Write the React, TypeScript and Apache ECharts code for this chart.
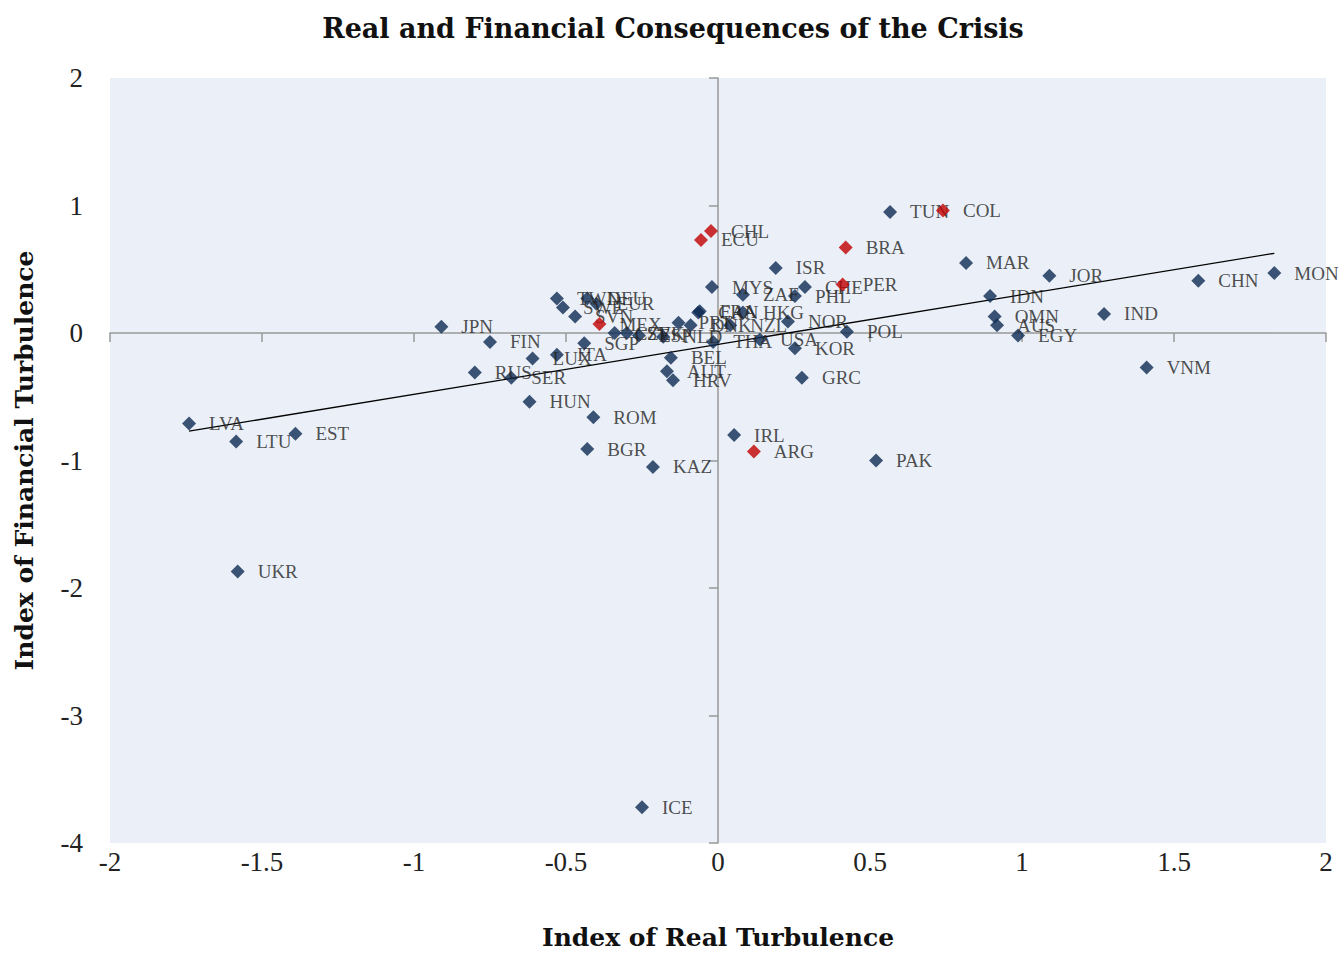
import { useEffect, useRef } from "react";
import * as echarts from "echarts";

const blueNames = [
  "LVA", "LTU", "EST", "UKR", "JPN", "FIN", "RUS", "SER", "LUX", "ITA", "HUN", "SGP", "BGR", "ROM", "KAZ", "ICE",
  "TWN", "SWE", "SVN", "DEU", "EUR", "CZE", "SVK", "ESP", "NLD", "PRT", "DNK", "CAN", "FRA",
  "MYS", "THA", "NZL", "HKG", "ZAF", "USA", "NOR", "PHL", "CHE", "KOR", "POL", "GRC", "ISR", "TUN",
  "MAR", "JOR", "IDN", "OMN", "AUS", "EGY", "CHN", "MON", "IND", "VNM", "PAK", "IRL", "BEL", "AUT", "HRV",
];
const blueX = [
  -1.74, -1.585, -1.39, -1.58, -0.91, -0.75, -0.8, -0.68, -0.61, -0.53, -0.62, -0.44, -0.43, -0.41, -0.214, -0.25,
  -0.53, -0.51, -0.47, -0.43, -0.4, -0.34, -0.3, -0.26, -0.18, -0.13, -0.09, -0.065, -0.06,
  -0.02, -0.016, 0.04, 0.082, 0.082, 0.138, 0.23, 0.253, 0.286, 0.253, 0.424, 0.276, 0.19, 0.566,
  0.816, 1.09, 0.895, 0.91, 0.918, 0.987, 1.58, 1.83, 1.27, 1.41, 0.52, 0.053, -0.155, -0.168, -0.148,
];
const blueY = [
  -0.71, -0.85, -0.79, -1.87, 0.05, -0.07, -0.31, -0.35, -0.2, -0.17, -0.54, -0.08, -0.91, -0.66, -1.05, -3.72,
  0.27, 0.2, 0.13, 0.27, 0.23, 0.0, 0.0, -0.02, -0.03, 0.08, 0.06, 0.16, 0.17,
  0.36, -0.07, 0.06, 0.16, 0.3, -0.05, 0.09, 0.29, 0.36, -0.12, 0.01, -0.35, 0.51, 0.95,
  0.55, 0.45, 0.29, 0.13, 0.06, -0.02, 0.41, 0.47, 0.15, -0.27, -1.0, -0.8, -0.195, -0.3, -0.37,
];
const redNames = ["COL", "BRA", "CHL", "ECU", "PER", "ARG", "MEX"];
const redX = [0.74, 0.42, -0.023, -0.056, 0.41, 0.118, -0.39];
const redY = [0.96, 0.67, 0.8, 0.73, 0.38, -0.93, 0.07];
const trendX = [-1.74, 1.83];
const trendY = [-0.77, 0.625];

const FONT = "'Liberation Serif', 'Times New Roman', serif";
const WIDE = "'DejaVu Serif', 'Liberation Serif', serif";

export default function App() {
  const ref = useRef<HTMLDivElement>(null);
  useEffect(() => {
    if (!ref.current) return;
    const chart = echarts.init(ref.current, null, { renderer: "svg" });
    const labelStyle = {
      show: true,
      position: "right",
      distance: 13,
      formatter: "{b}",
      fontFamily: FONT,
      fontSize: 19,
      color: "#222",
    };
    chart.setOption({
      animation: false,
      backgroundColor: "#ffffff",
      title: {
        text: "Real and Financial Consequences of the Crisis",
        left: 668,
        textAlign: "center",
        top: 10,
        textStyle: { fontFamily: WIDE, fontSize: 27, fontWeight: "bold", color: "#111" },
      },
      grid: {
        left: 110,
        right: 17,
        top: 78,
        bottom: 108,
        show: true,
        backgroundColor: "#EBF0F8",
        borderWidth: 0,
      },
      xAxis: [
        {
          type: "value",
          min: -2,
          max: 2,
          interval: 0.5,
          position: "bottom",
          axisLine: { show: false, onZero: false },
          axisTick: { show: false },
          splitLine: { show: false },
          axisLabel: { fontFamily: FONT, fontSize: 27, color: "#222", margin: 5 },
          name: "Index of Real Turbulence",
          nameLocation: "middle",
          nameGap: 82,
          nameTextStyle: { fontFamily: WIDE, fontSize: 25, fontWeight: "bold", color: "#111" },
        },
        {
          type: "value",
          min: -2,
          max: 2,
          interval: 0.5,
          position: "bottom",
          axisLine: { show: true, onZero: true, lineStyle: { color: "#999", width: 1.5 } },
          axisTick: { show: true, length: 9, lineStyle: { color: "#999", width: 1.5 } },
          axisLabel: { show: false },
          splitLine: { show: false },
        },
      ],
      yAxis: [
        {
          type: "value",
          min: -4,
          max: 2,
          interval: 1,
          position: "left",
          axisLine: { show: false, onZero: false },
          axisTick: { show: false },
          splitLine: { show: false },
          axisLabel: { fontFamily: FONT, fontSize: 27, color: "#222", margin: 27 },
          name: "Index of Financial Turbulence",
          nameLocation: "middle",
          nameGap: 73,
          nameTextStyle: { fontFamily: WIDE, fontSize: 25, fontWeight: "bold", color: "#111" },
        },
        {
          type: "value",
          min: -4,
          max: 2,
          interval: 1,
          position: "left",
          axisLine: { show: true, onZero: true, lineStyle: { color: "#999", width: 1.5 } },
          axisTick: { show: true, length: 9, lineStyle: { color: "#999", width: 1.5 } },
          axisLabel: { show: false },
          splitLine: { show: false },
        },
      ],
      series: [
        {
          type: "line",
          xAxisIndex: 0,
          yAxisIndex: 0,
          data: trendX.map((x, i) => [x, trendY[i]]),
          symbol: "none",
          lineStyle: { color: "#000", width: 1.3 },
          z: 3,
        },
        {
          type: "scatter",
          xAxisIndex: 0,
          yAxisIndex: 0,
          symbol: "diamond",
          symbolSize: [14, 14],
          itemStyle: { color: "#0E2A52" },
          label: labelStyle,
          data: blueNames.map((n, i) => ({ name: n, value: [blueX[i], blueY[i]] })),
          z: 4,
        },
        {
          type: "scatter",
          xAxisIndex: 0,
          yAxisIndex: 0,
          symbol: "diamond",
          symbolSize: [14, 14],
          itemStyle: { color: "#C00000" },
          label: labelStyle,
          data: redNames.map((n, i) => ({ name: n, value: [redX[i], redY[i]] })),
          z: 5,
        },
      ],
    });
    return () => chart.dispose();
  }, []);
  return <div ref={ref} style={{ width: 1343, height: 955, position: "absolute", left: 0, top: 0 }} />;
}
